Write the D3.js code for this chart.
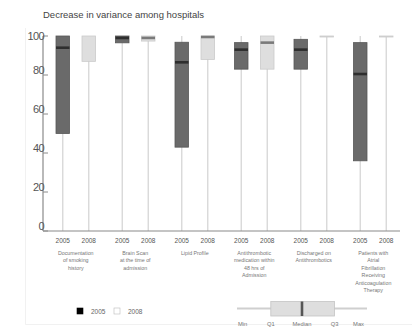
<!DOCTYPE html>
<html>
<head>
<meta charset="utf-8">
<script src="https://cdn.jsdelivr.net/npm/d3@7"></script>
<style>
  html, body { margin: 0; padding: 0; background: #fff; }
  svg { display: block; font-family: "Liberation Sans", Arial, sans-serif; }
</style>
</head>
<body>
<svg id="chart" width="412" height="327"></svg>
<script>
// Donnees
const measures = [
    ["Documentation", "of smoking", "history"],
    ["Brain Scan", "at the time of", "admission"],
    ["Lipid Profile"],
    ["Antithrombotic", "medication within", "48 hrs of", "Admission"],
    ["Discharged on", "Antithrombotics"],
    ["Patients with", "Atrial", "Fibrillation", "Receiving", "Anticoagulation", "Therapy"]
];
const years = ["2005", "2008"];
const yTicks = [0, 20, 40, 60, 80, 100];

const min2005 = [0, 0, 0, 0, 0, 0];
const q1_2005 = [50, 96.5, 43, 83, 83, 36];
const median2005 = [94, 99, 86.5, 93, 93, 80.5];
const q3_2005 = [100, 100, 96.8, 96.6, 98.3, 96.6];
const max2005 = [100, 100, 100, 100, 100, 100];

const min2008 = [0, 0, 0, 0, 0, 0];
const q1_2008 = [87, 97.4, 88, 83, 100, 100];
const median2008 = [100, 99, 99.5, 96.6, 100, 100];
const q3_2008 = [100, 100, 100, 100, 100, 100];
const max2008 = [100, 100, 100, 100, 100, 100];

const keyLabels = ["Min", "Q1", "Median", "Q3", "Max"];
const keyValues = [0, 26, 50, 75, 100];

const svg = d3.select("#chart");
const chartConfig = { left: 43, right: 400, top: 36, bottom: 231, boxWidth: 13.5 };

const seriesByYear = {
    "2005": { min: min2005, q1: q1_2005, median: median2005, q3: q3_2005, max: max2005,
              fill: "#6a6a6a", stroke: "#575757", medianColor: "#2e2e2e" },
    "2008": { min: min2008, q1: q1_2008, median: median2008, q3: q3_2008, max: max2008,
              fill: "#dedede", stroke: "#cacaca", medianColor: "#7a7a7a" }
};

// Echelles
const yScale = d3.scaleLinear().domain([0, 100]).range([chartConfig.bottom, chartConfig.top]);
const groupScale = d3.scaleBand().domain(d3.range(measures.length)).range([46, 403]);
const yearScale = d3.scalePoint().domain(years)
    .range([groupScale.bandwidth() / 2 - 13, groupScale.bandwidth() / 2 + 13]);

function getBoxX(groupIndex, year) {
    return groupScale(groupIndex) + yearScale(year);
}

// Cadre tres pale
svg.append("path")
    .attr("d", "M25.5,28V324.5H412")
    .attr("fill", "none")
    .attr("stroke", "#f1f1f1");

// Titre
svg.append("text")
    .attr("x", chartConfig.left)
    .attr("y", 18)
    .attr("font-size", 9.5)
    .attr("fill", "#444")
    .text("Decrease in variance among hospitals");

// Boites
measures.forEach(function(measure, groupIndex) {
    years.forEach(function(year) {
        const series = seriesByYear[year];
        const cx = getBoxX(groupIndex, year);
        const half = chartConfig.boxWidth / 2;

        svg.append("line")
            .attr("x1", cx).attr("x2", cx)
            .attr("y1", yScale(series.min[groupIndex]))
            .attr("y2", yScale(series.max[groupIndex]))
            .attr("stroke", "#d9d9d9")
            .attr("stroke-width", 1.4);

        const yTop = yScale(series.q3[groupIndex]);
        const yBottom = yScale(series.q1[groupIndex]);
        const boxHeight = Math.max(yBottom - yTop, 1);

        svg.append("rect")
            .attr("x", cx - half)
            .attr("y", yTop)
            .attr("width", chartConfig.boxWidth)
            .attr("height", boxHeight)
            .attr("fill", series.fill)
            .attr("stroke", series.stroke)
            .attr("stroke-width", 0.8);

        if (series.median[groupIndex] < series.q3[groupIndex]) {
            svg.append("line")
                .attr("x1", cx - half).attr("x2", cx + half)
                .attr("y1", yScale(series.median[groupIndex]))
                .attr("y2", yScale(series.median[groupIndex]))
                .attr("stroke", series.medianColor)
                .attr("stroke-width", 2.6);
        }
    });
});

// Axes
svg.append("line")
    .attr("x1", chartConfig.left).attr("x2", chartConfig.left)
    .attr("y1", yScale(100)).attr("y2", chartConfig.bottom)
    .attr("stroke", "#8a8a8a")
    .attr("stroke-width", 1.2);

svg.append("line")
    .attr("x1", chartConfig.left).attr("x2", chartConfig.right)
    .attr("y1", chartConfig.bottom).attr("y2", chartConfig.bottom)
    .attr("stroke", "#8a8a8a")
    .attr("stroke-width", 1.2);

yTicks.forEach(function(tick) {
    svg.append("line")
        .attr("x1", chartConfig.left).attr("x2", chartConfig.left + 5)
        .attr("y1", yScale(tick)).attr("y2", yScale(tick))
        .attr("stroke", "#8a8a8a");

    svg.append("text")
        .attr("x", chartConfig.left + 1)
        .attr("y", yScale(tick))
        .attr("dy", tick === 100 ? "0.35em" : "-0.05em")
        .attr("text-anchor", "end")
        .attr("font-size", 11)
        .attr("letter-spacing", -0.6)
        .attr("fill", "#555")
        .text(tick);
});

// Etiquettes des mesures
measures.forEach(function(measure, groupIndex) {
    years.forEach(function(year) {
        svg.append("text")
            .attr("x", getBoxX(groupIndex, year))
            .attr("y", 243)
            .attr("text-anchor", "middle")
            .attr("font-size", 6.5)
            .attr("fill", "#555")
            .text(year);
    });

    const label = svg.append("text")
        .attr("text-anchor", "middle")
        .attr("font-size", 5.3)
        .attr("fill", "#777");

    measure.forEach(function(line, lineIndex) {
        label.append("tspan")
            .attr("x", groupScale(groupIndex) + groupScale.bandwidth() / 2)
            .attr("y", 254.5 + lineIndex * 7.5)
            .text(line);
    });
});

// Legende des annees
const legend = svg.append("g").attr("transform", "translate(77, 308)");
years.forEach(function(year, index) {
    const item = legend.append("g").attr("transform", "translate(" + (index * 37) + ", 0)");
    item.append("rect")
        .attr("width", 6)
        .attr("height", 6)
        .attr("fill", index === 0 ? "#000" : "#fff")
        .attr("stroke", index === 0 ? "#000" : "#bbb")
        .attr("stroke-width", 0.6);
    item.append("text")
        .attr("x", 14)
        .attr("y", 5.5)
        .attr("font-size", 6.5)
        .attr("fill", "#666")
        .text(year);
});

// Legende de la boite
const keyScale = d3.scaleLinear().domain([0, 100]).range([237, 367]);
const keyY = 308.5;

svg.append("line")
    .attr("x1", keyScale(keyValues[0])).attr("x2", keyScale(keyValues[4]))
    .attr("y1", keyY).attr("y2", keyY)
    .attr("stroke", "#cfcfcf")
    .attr("stroke-width", 2);

svg.append("rect")
    .attr("x", keyScale(keyValues[1]))
    .attr("y", 301.5)
    .attr("width", keyScale(keyValues[3]) - keyScale(keyValues[1]))
    .attr("height", 14.5)
    .attr("fill", "#dedede")
    .attr("stroke", "#c4c4c4")
    .attr("stroke-width", 0.8);

svg.append("line")
    .attr("x1", keyScale(keyValues[2])).attr("x2", keyScale(keyValues[2]))
    .attr("y1", 301.5).attr("y2", 316)
    .attr("stroke", "#555")
    .attr("stroke-width", 2.6);

keyLabels.forEach(function(label, index) {
    svg.append("text")
        .attr("x", keyScale(keyValues[index]) + (index === 0 ? 1 : index === 4 ? -3 : 0))
        .attr("y", 326)
        .attr("text-anchor", index === 0 ? "start" : index === 4 ? "end" : "middle")
        .attr("font-size", 5.8)
        .attr("fill", "#777")
        .text(label);
});
</script>
</body>
</html>
